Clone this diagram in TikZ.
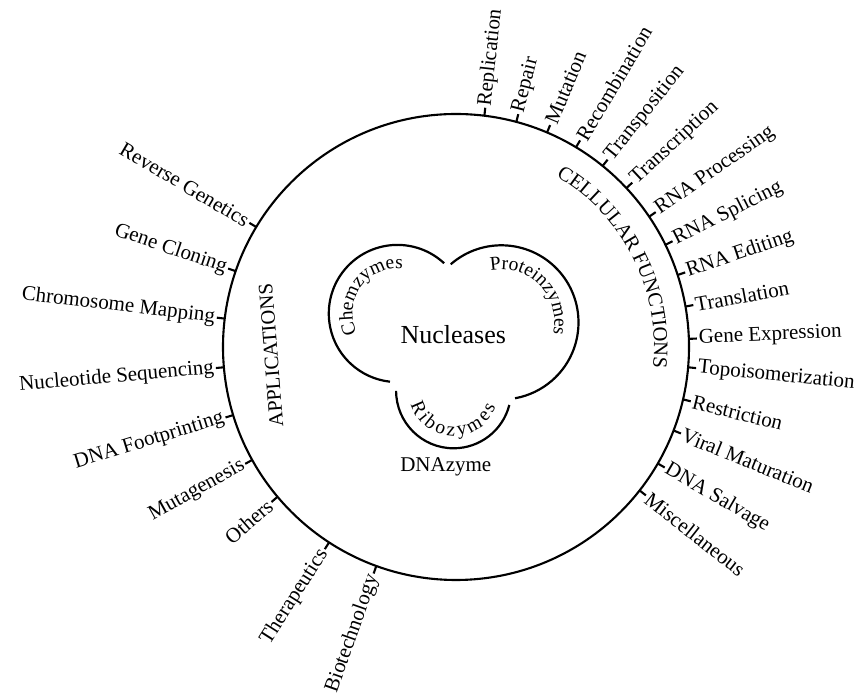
\documentclass[tikz,border=0pt]{standalone}
\usepackage{fontspec}
\setmainfont{Liberation Serif}
\usetikzlibrary{decorations.text}
\newcommand\lblfont{\fontsize{21}{25}\selectfont}
\newcommand\catfont{\fontsize{20.5}{24}\selectfont}
\newcommand\lobefont{\fontsize{19.5}{23}\selectfont}
\begin{document}
\begin{tikzpicture}[x=1pt,y=1pt,line width=2.1pt,
  lbl/.style={font=\lblfont, inner sep=1pt},
  tick/.style={line width=2.1pt},
  lobe/.style={line width=2.2pt}]
\useasboundingbox (0,0) rectangle (855,698);
\coordinate (O) at (456,351);
\node[circle, draw, minimum size=466pt, inner sep=0pt, outer sep=0pt] (big) at (O) {};

% right side: cellular functions
\foreach \a/\t [count=\i] in {83.7/Replication, 75.57/Repair, 67.45/Mutation,
  59.32/Recombination, 51.19/Transposition, 43.07/Transcription,
  34.94/RNA Processing, 26.81/RNA Splicing, 18.68/RNA Editing,
  10.56/Translation, 2.43/Gene Expression, -5.70/Topoisomerization,
  -13.83/Restriction, -21.95/Viral Maturation, -30.08/DNA Salvage,
  -38.21/Miscellaneous}{
  \draw[tick] (big.\a) -- ++(\a:8) coordinate (rt\i);
  \node[lbl, anchor=west, rotate=\a] (r\i) at (rt\i) {\t};
}
% left side: applications
\foreach \a/\t [count=\i] in {149.4/Reverse Genetics, 161.33/Gene Cloning,
  173.26/Chromosome Mapping, 185.19/Nucleotide Sequencing,
  197.12/DNA Footprinting, 209.05/Mutagenesis, 220.98/Others,
  237.5/Therapeutics, 250.6/Biotechnology}{
  \pgfmathsetmacro\rot{\a-180}
  \draw[tick] (big.\a) -- ++(\a:8) coordinate (lt\i);
  \node[lbl, anchor=east, rotate=\rot] (l\i) at (lt\i) {\t};
}

% category labels
\node[font=\catfont, rotate=94.5, inner sep=0pt] (app) at (271,342.5) {APPLICATIONS};
\path[decorate, decoration={text along path, text align=center,
  text={|\catfont|CELLULAR FUNCTIONS}}]
  ([shift={(116.75:198)}]O) arc[start angle=116.75, end angle=-63.25, radius=198];

% inner three-lobed shape
\coordinate (L) at (397.4,384.5);
\coordinate (R) at (501.4,375.6);
\coordinate (B) at (453.6,307.2);
\draw[lobe] ([shift={(47.1:68.6)}]L) arc[start angle=47.1, end angle=263.8, radius=68.6];
\draw[lobe] ([shift={(131.1:77.1)}]R) arc[start angle=131.1, end angle=-79.8, radius=77.1];
\draw[lobe] ([shift={(180:57.5)}]B) arc[start angle=180, end angle=345.7, radius=57.5];

\path[decorate, decoration={text along path, text align=center,
  text={|\lobefont|Chemzymes}}]
  ([shift={(234.7:45)}]L) arc[start angle=234.7, end angle=54.7, radius=45];
\path[decorate, decoration={text along path, text align=center,
  text={|\lobefont|Proteinzymes}}]
  ([shift={(134.4:53)}]R) arc[start angle=134.4, end angle=-45.6, radius=53];
\path[decorate, decoration={text along path, text align=center,
  text={|\lobefont\kern3pt|Ribozymes}}]
  ([shift={(176.2:45)}]B) arc[start angle=176.2, end angle=356.2, radius=45];

\node[font=\fontsize{26}{30}\selectfont, anchor=base, inner sep=0pt] (nuc) at (453.3,354.7) {Nucleases};
\node[lbl, anchor=base, inner sep=0pt] (dna) at (445.8,226) {DNAzyme};
\end{tikzpicture}
\end{document}
